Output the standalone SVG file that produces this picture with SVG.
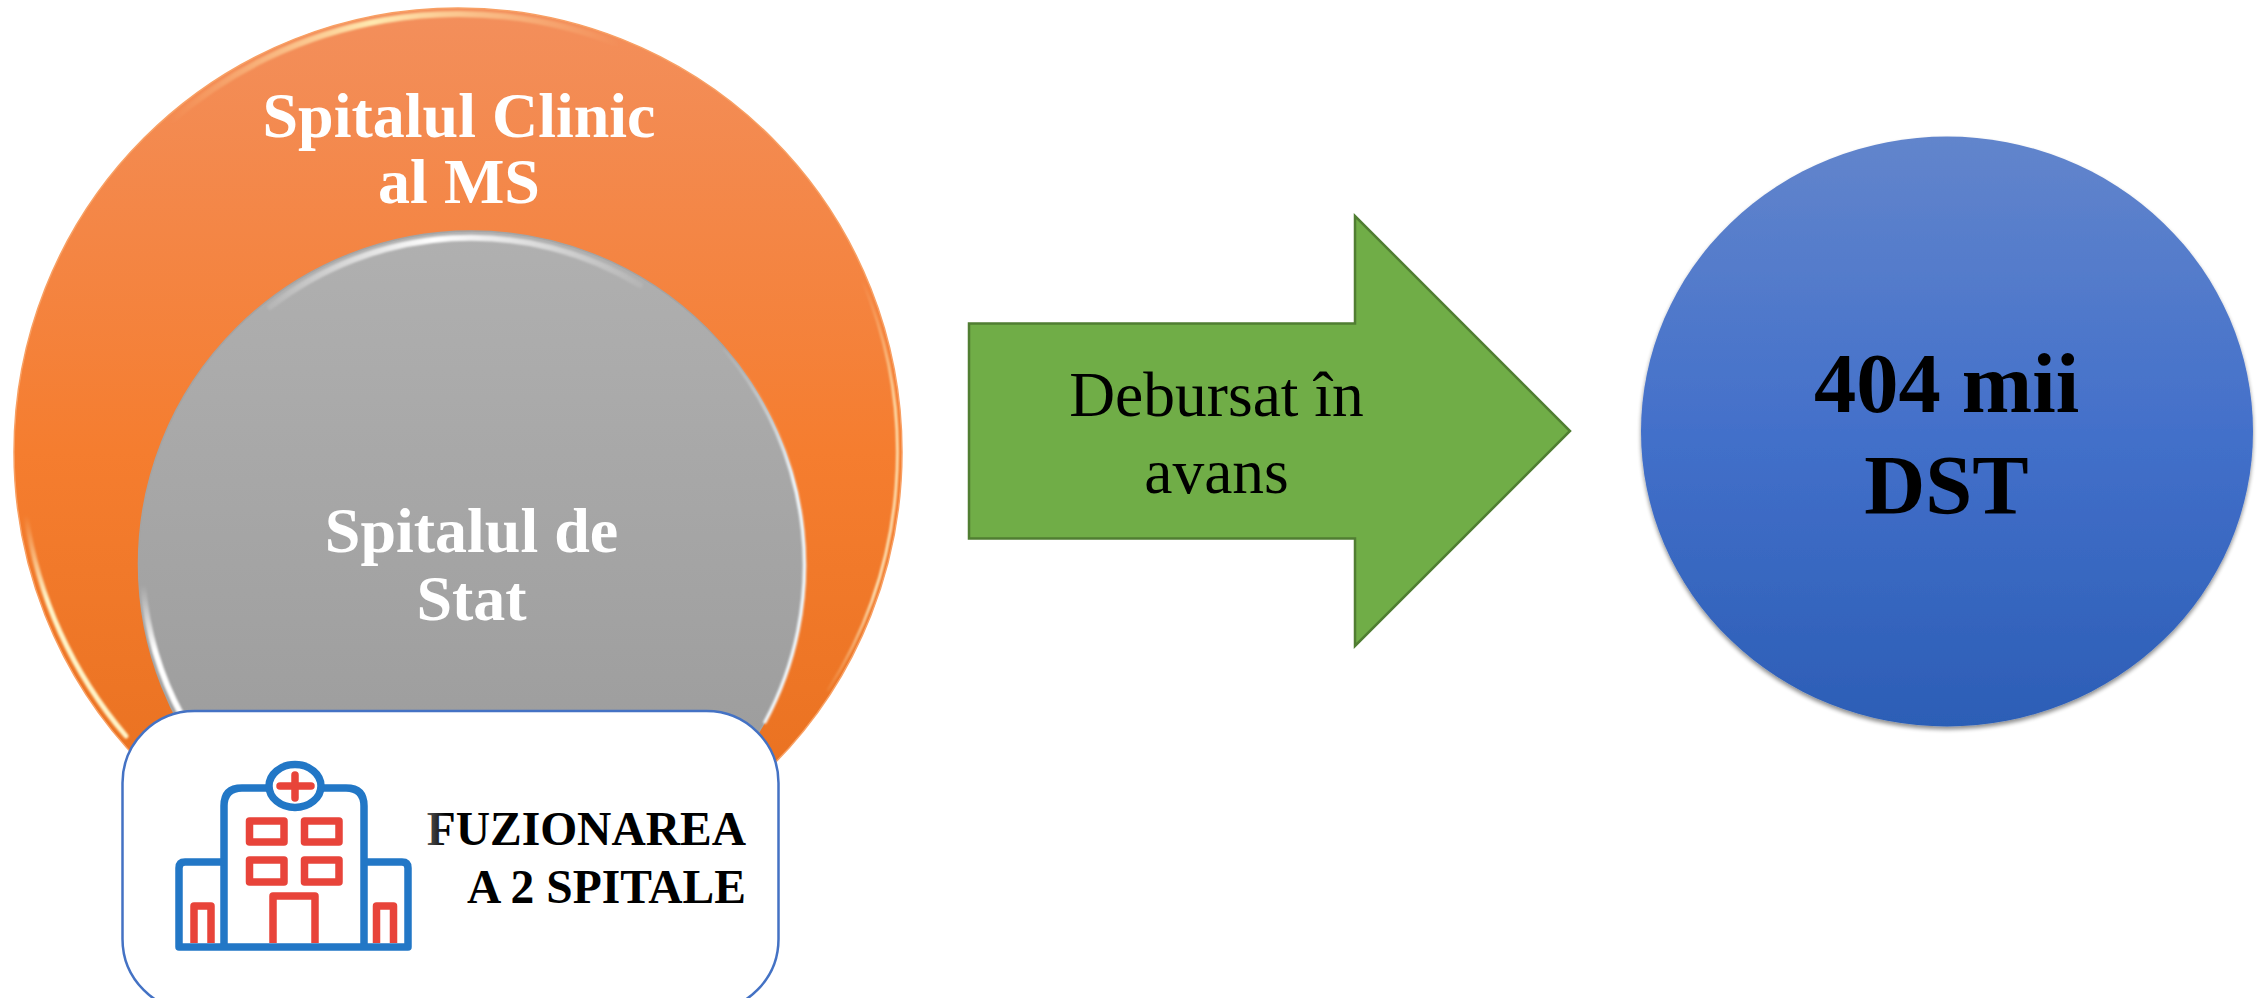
<svg xmlns="http://www.w3.org/2000/svg" width="2262" height="998" viewBox="0 0 2262 998">
<style>
text{font-family:"Liberation Serif","Times New Roman",serif;text-anchor:middle}
.b{font-weight:bold}
.w{fill:#fff;font-size:64px}
.m{font-size:47.500px;text-anchor:end}
.blue{fill:none;stroke:#2277c6;stroke-width:7.500;stroke-linejoin:round}
.red{fill:none;stroke:#e8443a;stroke-width:7.500;stroke-linejoin:round;stroke-linecap:butt}
.hl{fill:none;stroke-linecap:round}
</style>
<defs>
<linearGradient id="go" x1="0" y1="0" x2="0" y2="1"><stop offset="0" stop-color="#f38f5c"/><stop offset=".5" stop-color="#f57d2f"/><stop offset="1" stop-color="#e66e1c"/></linearGradient>
<linearGradient id="gg" x1="0" y1="0" x2="0" y2="1"><stop offset="0" stop-color="#b0b0b0"/><stop offset="1" stop-color="#989898"/></linearGradient>
<linearGradient id="gb" x1="0" y1="0" x2="0" y2="1"><stop offset="0" stop-color="#6285cc"/><stop offset=".5" stop-color="#4370ca"/><stop offset="1" stop-color="#2c5eb6"/></linearGradient>
<linearGradient id="hlo" gradientUnits="userSpaceOnUse" x1="170" y1="0" x2="620" y2="0"><stop offset="0" stop-color="#ffd9a0" stop-opacity="0"/><stop offset=".45" stop-color="#ffe9b0"/><stop offset="1" stop-color="#ffd9a0" stop-opacity="0"/></linearGradient>
<linearGradient id="hlg" gradientUnits="userSpaceOnUse" x1="250" y1="0" x2="660" y2="0"><stop offset="0" stop-color="#fff" stop-opacity="0"/><stop offset=".45" stop-color="#fff"/><stop offset="1" stop-color="#fff" stop-opacity="0"/></linearGradient>
<linearGradient id="fadeOR" gradientUnits="userSpaceOnUse" x1="0" y1="280" x2="0" y2="700"><stop offset="0" stop-color="#ffe9b8" stop-opacity="0"/><stop offset=".3" stop-color="#ffe9b8"/><stop offset=".75" stop-color="#fff0c8"/><stop offset="1" stop-color="#ffe9b8" stop-opacity="0"/></linearGradient>
<linearGradient id="fadeOL" gradientUnits="userSpaceOnUse" x1="0" y1="515" x2="0" y2="600"><stop offset="0" stop-color="#fff4c8" stop-opacity="0"/><stop offset="1" stop-color="#fff4c8"/></linearGradient>
<linearGradient id="fadeGR" gradientUnits="userSpaceOnUse" x1="0" y1="340" x2="0" y2="480"><stop offset="0" stop-color="#e6eef2" stop-opacity="0"/><stop offset="1" stop-color="#f2f7fa"/></linearGradient>
<linearGradient id="fadeGL" gradientUnits="userSpaceOnUse" x1="0" y1="585" x2="0" y2="650"><stop offset="0" stop-color="#fff" stop-opacity="0"/><stop offset="1" stop-color="#fff"/></linearGradient>
<linearGradient id="gf" gradientUnits="userSpaceOnUse" x1="428" y1="0" x2="446" y2="0"><stop offset="0" stop-color="#555"/><stop offset="1" stop-color="#000"/></linearGradient>
<filter id="bl" filterUnits="userSpaceOnUse" x="0" y="0" width="1000" height="998"><feGaussianBlur stdDeviation="1"/></filter>
<filter id="sh" x="-5%" y="-5%" width="110%" height="110%"><feGaussianBlur in="SourceAlpha" stdDeviation="2"/><feOffset dy="3"/><feComponentTransfer><feFuncA type="linear" slope=".45"/></feComponentTransfer><feMerge><feMergeNode/><feMergeNode in="SourceGraphic"/></feMerge></filter>
</defs>
<g id="node-clinic">
<circle cx="458" cy="452" r="444" fill="url(#go)" stroke="#f8a064" stroke-width="1.500"/>
<path class="hl" d="M170 122A438 438 0 0 1 620 45" stroke="url(#hlo)" stroke-width="6" filter="url(#bl)"/>
<path class="hl" d="M862 280A440 440 0 0 1 828 690" stroke="url(#fadeOR)" stroke-width="2.500" filter="url(#bl)"/>
<path class="hl" d="M26 515A436 436 0 0 0 126 736" stroke="url(#fadeOL)" stroke-width="5" filter="url(#bl)"/>
<text class="b w" x="459" y="137">Spitalul Clinic</text>
<text class="b w" x="459" y="203">al MS</text>
</g>
<g id="node-stat">
<circle cx="471.500" cy="564" r="333" fill="url(#gg)" stroke="#a4a4a4" stroke-width="1.500"/>
<path class="hl" d="M270 307A326 326 0 0 1 640 285" stroke="url(#hlg)" stroke-width="6" filter="url(#bl)"/>
<path class="hl" d="M725 350A331 331 0 0 1 765 722" stroke="url(#fadeGR)" stroke-width="3.500" filter="url(#bl)"/>
<path class="hl" d="M143 585A329 329 0 0 0 182 716" stroke="url(#fadeGL)" stroke-width="6" filter="url(#bl)"/>
<text class="b w" x="471.500" y="552">Spitalul de</text>
<text class="b w" x="471.500" y="620">Stat</text>
</g>
<g id="node-merge">
<rect x="122.500" y="711" width="656" height="300" rx="72" ry="72" fill="#fff" stroke="#4472c4" stroke-width="2.500"/>
<g id="hospital-icon">
<path class="blue" d="M224 947V806Q224 788 242 788H270M320 788H346Q364 788 364 806V947"/>
<path class="blue" d="M224 862H185Q179 862 179 868V947H408V868Q408 862 402 862H364"/>
<path class="red" style="stroke-linecap:round" d="M280 786H311M295 775V798"/>
<ellipse class="blue" cx="295" cy="786" rx="26" ry="21.500"/>
<rect class="red" x="249.500" y="821" width="34.500" height="21"/>
<rect class="red" x="304.500" y="821" width="34.500" height="21"/>
<rect class="red" x="249.500" y="860" width="34.500" height="22"/>
<rect class="red" x="304.500" y="860" width="34.500" height="22"/>
<path class="red" d="M273 943V896H315V943"/>
<path class="red" d="M194 943V906H211V943M376.500 943V906H393.500V943"/>
</g>
<text class="b m" x="746" y="845" fill="url(#gf)">FUZIONAREA</text>
<text class="b m" x="746" y="903">A 2 SPITALE</text>
</g>
<g id="connectors">
<g id="arrow-disbursed">
<path d="M969 323.500H1355V216L1570 431L1355 646V538.500H969Z" fill="#70ad47" stroke="#507e32" stroke-width="2.500"/>
<text x="1216.500" y="416" font-size="63.500">Debursat în</text>
<text x="1216.500" y="493" font-size="63.500">avans</text>
</g>
</g>
<g id="node-amount">
<ellipse cx="1947" cy="431.500" rx="306" ry="295" fill="url(#gb)" filter="url(#sh)"/>
<text class="b" x="1946.500" y="412" font-size="84.500">404 mii</text>
<text class="b" x="1946.500" y="514" font-size="84.500">DST</text>
</g>
</svg>
